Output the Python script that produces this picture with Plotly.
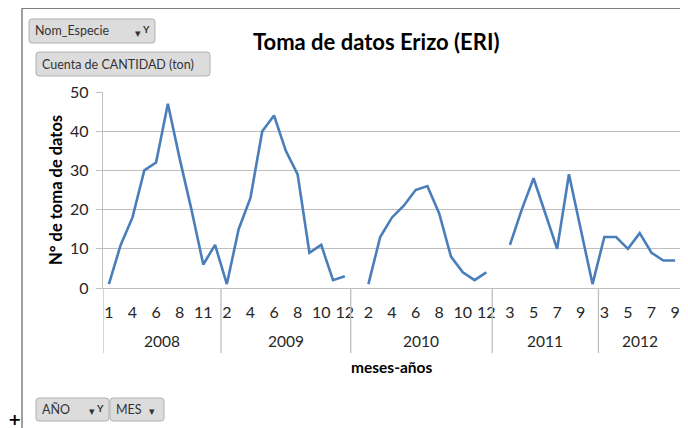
import plotly.graph_objects as go

# ---------------- data ----------------
years = ["2008", "2009", "2010", "2011", "2012"]
months_2008 = [1, 2, 4, 5, 6, 7, 8, 9, 11, 12]
counts_2008 = [1, 11, 18, 30, 32, 47, 33, 20, 6, 11]
months_2009 = [2, 3, 4, 5, 6, 7, 8, 9, 10, 11, 12]
counts_2009 = [1, 15, 23, 40, 44, 35, 29, 9, 11, 2, 3]
months_2010 = [1, 2, 3, 4, 5, 6, 7, 8, 9, 10, 11, 12]
counts_2010 = [None, 1, 13, 18, 21, 25, 26, 19, 8, 4, 2, 4]
months_2011 = [2, 3, 4, 5, 6, 7, 8, 9, 10]
counts_2011 = [None, 11, 20, 28, 19, 10, 29, 15, 1]
months_2012 = [3, 4, 5, 6, 7, 8, 9]
counts_2012 = [13, 13, 10, 14, 9, 7, 7]

y_ticks = [0, 10, 20, 30, 40, 50]

months_by_year = [months_2008, months_2009, months_2010, months_2011, months_2012]
counts_by_year = [counts_2008, counts_2009, counts_2010, counts_2011, counts_2012]

# ---------------- build category index ----------------
xs, ys, month_labels = [], [], []
group_bounds = []
i = 0
for ms, cs in zip(months_by_year, counts_by_year):
    start = i
    for m, c in zip(ms, cs):
        xs.append(i)
        ys.append(c)
        month_labels.append(str(m))
        i += 1
    group_bounds.append((start, i - 1))
n = len(xs)

tickvals = list(range(0, n, 2))
ticktext = [month_labels[k] for k in tickvals]

# ---------------- layout geometry (page pixels) ----------------
W, H = 688, 428
OFF = 8  # page body margin offset
L, R, T, B = 103, 681, 92, 288
pw, ph = R - L, B - T


def px(x):
    return (x - L) / pw


def py(y):
    return (B - y) / ph


FONT = "Lato, 'Open Sans', sans-serif"
TXT = "#262626"
GRID = "#BFBFBF"
LINE = "#4A7EBB"

fig = go.Figure()
fig.add_trace(go.Scatter(
    x=xs, y=ys, mode="lines", connectgaps=False,
    line=dict(color=LINE, width=2.6), hoverinfo="skip", showlegend=False,
))

shapes = []
annotations = []

# year dividers below axis
bounds = [-0.5] + [b[1] + 0.5 for b in group_bounds]
for bx in bounds:
    shapes.append(dict(type="line", xref="x", yref="paper", x0=bx, x1=bx,
                       y0=0, y1=py(353), line=dict(color=GRID, width=1.3)))

# year labels
for yr, (a, b) in zip(years, group_bounds):
    annotations.append(dict(text=yr, x=(a + b) / 2, xref="x", y=py(341), yref="paper",
                            showarrow=False, font=dict(family=FONT, size=15.5, color=TXT),
                            xanchor="center", yanchor="middle"))

# title and axis titles
annotations.append(dict(text="<b>Toma de datos Erizo (ERI)</b>", x=px(376), y=py(41),
                        xref="paper", yref="paper", showarrow=False,
                        font=dict(family=FONT, size=22, color="#000000"),
                        xanchor="center", yanchor="middle"))
annotations.append(dict(text="<b>N° de toma de datos</b>", x=px(56), y=py(190),
                        xref="paper", yref="paper", showarrow=False, textangle=-90,
                        font=dict(family=FONT, size=16.5, color="#000000"),
                        xanchor="center", yanchor="middle"))
annotations.append(dict(text="<b>meses-años</b>", x=px(391), y=py(367),
                        xref="paper", yref="paper", showarrow=False,
                        font=dict(family=FONT, size=15.5, color="#000000"),
                        xanchor="center", yanchor="middle"))

# outer chart border (top + left)
shapes.append(dict(type="line", xref="paper", yref="paper", x0=px(22), x1=px(700),
                   y0=py(8), y1=py(8), line=dict(color="#7F7F7F", width=2)))
shapes.append(dict(type="line", xref="paper", yref="paper", x0=px(22), x1=px(22),
                   y0=py(8), y1=py(440), line=dict(color="#7F7F7F", width=1.5)))


def rrect(x0, y0, x1, y1, r=3):
    p = (f"M {px(x0 + r)},{py(y0)} L {px(x1 - r)},{py(y0)} Q {px(x1)},{py(y0)} {px(x1)},{py(y0 + r)} "
         f"L {px(x1)},{py(y1 - r)} Q {px(x1)},{py(y1)} {px(x1 - r)},{py(y1)} "
         f"L {px(x0 + r)},{py(y1)} Q {px(x0)},{py(y1)} {px(x0)},{py(y1 - r)} "
         f"L {px(x0)},{py(y0 + r)} Q {px(x0)},{py(y0)} {px(x0 + r)},{py(y0)} Z")
    return dict(type="path", xref="paper", yref="paper", path=p,
                fillcolor="#DCDCDC", line=dict(color="#B0B0B0", width=1))


buttons = [
    ("Nom_Especie", 29, 19, 155, 43, True, True),
    ("Cuenta de CANTIDAD (ton)", 36, 52, 210, 76, False, False),
    ("AÑO", 36, 398, 109, 421, True, True),
    ("MES", 110, 398, 164, 421, True, False),
]
for label, x0, y0, x1, y1, arrow, funnel in buttons:
    shapes.append(rrect(x0, y0, x1, y1))
    annotations.append(dict(text=label, x=px(x0 + 4), y=py((y0 + y1) / 2), xref="paper", yref="paper",
                            showarrow=False, xanchor="left", yanchor="middle",
                            font=dict(family=FONT, size=12.5, color="#333333")))
    if arrow:
        ax = x1 - 12 if not funnel else x1 - 17
        annotations.append(dict(text="▾", x=px(ax), y=py((y0 + y1) / 2 + 1), xref="paper", yref="paper",
                                showarrow=False, xanchor="center", yanchor="middle",
                                font=dict(family=FONT, size=11, color="#333333")))
    if funnel:
        annotations.append(dict(text="<b>Y</b>", x=px(x1 - 9), y=py((y0 + y1) / 2 - 2), xref="paper", yref="paper",
                                showarrow=False, xanchor="center", yanchor="middle",
                                font=dict(family=FONT, size=10, color="#333333")))

# cursor cross
annotations.append(dict(text="<b>+</b>", x=px(14), y=py(419), xref="paper", yref="paper",
                        showarrow=False, xanchor="center", yanchor="middle",
                        font=dict(family="DejaVu Sans", size=16, color="#000000")))

fig.update_layout(
    width=W, height=H,
    margin=dict(l=L - OFF, r=W - (R - OFF), t=T - OFF, b=H - (B - OFF), autoexpand=False),
    paper_bgcolor="white", plot_bgcolor="white",
    shapes=shapes, annotations=annotations,
    showlegend=False,
    xaxis=dict(range=[-0.5, n - 0.5], tickmode="array", tickvals=tickvals, ticktext=ticktext,
               showgrid=False, zeroline=False, showline=True, linecolor=GRID, linewidth=1.3,
               ticks="", ticklabelstandoff=10, automargin=False,
               tickfont=dict(family=FONT, size=16, color=TXT), fixedrange=True),
    yaxis=dict(range=[0, 50], tickmode="array", tickvals=y_ticks,
               showgrid=True, gridcolor=GRID, gridwidth=1.3, zeroline=False,
               showline=True, linecolor=GRID, linewidth=1.3,
               ticks="outside", ticklen=6, tickcolor=GRID, tickwidth=1.3,
               ticklabelstandoff=4, automargin=False,
               tickfont=dict(family=FONT, size=16, color=TXT), fixedrange=True),
)

fig.write_html("out.html")
